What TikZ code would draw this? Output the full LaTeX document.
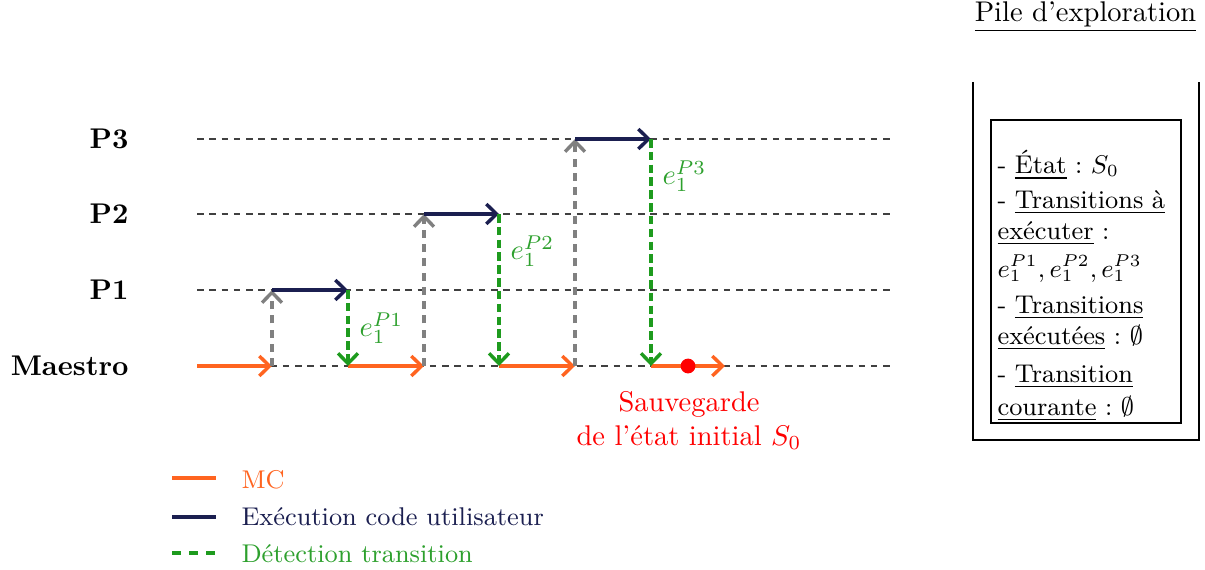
\documentclass[tikz,border=0pt]{standalone}
\usepackage{amssymb}
\usetikzlibrary{arrows.meta}
\frenchspacing
\definecolor{mcorange}{HTML}{FF6420}
\definecolor{usernavy}{HTML}{1B1F50}
\definecolor{detgreen}{HTML}{1E9B1E}
\definecolor{labgreen}{HTML}{2DA02D}
\tikzset{
  tip/.style={-{Straight Barb[length=3.6pt,width=7pt]}},
  rowline/.style={line width=0.45pt, dash pattern=on 2.3pt off 2pt, black!75},
  mcarrow/.style={tip, line width=1.2pt, mcorange},
  userarrow/.style={tip, line width=1.2pt, usernavy},
  detarrow/.style={tip, line width=1.2pt, detgreen, dash pattern=on 3pt off 1.5pt},
  gotoarrow/.style={tip, line width=1.2pt, gray, dash pattern=on 2.8pt off 2.2pt},
  rowlabel/.style={anchor=east, font=\bfseries, inner sep=0pt},
  translabel/.style={anchor=west, text=labgreen, inner sep=0pt},
  legtext/.style={anchor=west, font=\small, inner sep=0pt},
}
\begin{document}
\begin{tikzpicture}[x={(0.351pt,0)}, y={(0,-0.351pt)}]
\useasboundingbox (0,0) rectangle (1205,570);
% rows
\foreach \n/\yy in {P3/139, P2/214, P1/290, M/366}{
  \coordinate (\n-s) at (197,\yy);
  \coordinate (\n-e) at (893,\yy);
}
\node[rowlabel] (lP3) at (129,139) {P3};
\node[rowlabel] (lP2) at (129,214) {P2};
\node[rowlabel] (lP1) at (129,290) {P1};
\node[rowlabel] (lM) at (129,366) {Maestro};
\draw[rowline] (P3-s) -- (P3-e);
\draw[rowline] (P2-s) -- (P2-e);
\draw[rowline] (P1-s) -- (P1-e);
\draw[rowline] (M-s) -- (M-e);
% key points
\coordinate (m1) at (272,366);
\coordinate (m2) at (348,366);
\coordinate (m3) at (424,366);
\coordinate (m4) at (499,366);
\coordinate (m5) at (575,366);
\coordinate (m6) at (651,366);
\coordinate (m7) at (725,366);
\coordinate (p1a) at (272,290);
\coordinate (p1b) at (348,290);
\coordinate (p2a) at (424,214);
\coordinate (p2b) at (499,214);
\coordinate (p3a) at (575,139);
\coordinate (p3b) at (651,139);
% MC arrows
\draw[mcarrow] (M-s) -- (m1);
\draw[mcarrow] (m2) -- (m3);
\draw[mcarrow] (m4) -- (m5);
\draw[mcarrow] (m6) -- (m7);
% goto user
\draw[gotoarrow] (m1) -- (p1a);
\draw[gotoarrow] (m3) -- (p2a);
\draw[gotoarrow] (m5) -- (p3a);
% user code
\draw[userarrow] (p1a) -- (p1b);
\draw[userarrow] (p2a) -- (p2b);
\draw[userarrow] (p3a) -- (p3b);
% detection
\draw[detarrow] (p1b) -- (m2);
\draw[detarrow] (p2b) -- (m4);
\draw[detarrow] (p3b) -- (m6);
\node[translabel] (t1) at (359,328) {$e_1^{P1}$};
\node[translabel] (t2) at (510,251) {$e_1^{P2}$};
\node[translabel] (t3) at (662,176) {$e_1^{P3}$};
% save
\fill[red] (688,366) circle (2.6pt) coordinate (save);
\node[text=red, align=center, anchor=north] (savetxt) at (689,381) {Sauvegarde\\de l'état initial $S_0$};
% legend
\coordinate (lg1a) at (172,478); \coordinate (lg1b) at (216,478);
\coordinate (lg2a) at (172,517); \coordinate (lg2b) at (216,517);
\coordinate (lg3a) at (172,553); \coordinate (lg3b) at (216,553);
\draw[line width=1.2pt, mcorange] (lg1a) -- (lg1b);
\draw[line width=1.2pt, usernavy] (lg2a) -- (lg2b);
\draw[line width=1.2pt, detgreen, dash pattern=on 3pt off 3pt] (lg3a) -- (lg3b);
\node[legtext, text=mcorange] (lgt1) at (241,480) {MC};
\node[legtext, text=usernavy] (lgt2) at (241,517) {Exécution code utilisateur};
\node[legtext, text=labgreen] (lgt3) at (241,554) {Détection transition};
% stack
\node[anchor=south, inner sep=0pt] (piletitle) at (1085.5,33) {\underline{Pile d'exploration}};
\draw[line width=0.5pt] (973,82) coordinate (sA) -- (973,440) -- (1199,440) -- (1199,82) coordinate (sB);
\draw[line width=0.5pt] (991,120) rectangle (1181,423);
\node[anchor=north west, text width=62pt, align=left, inner sep=0pt, font=\small] (stack) at (997,150) {%
- \underline{État} : $S_0$\\[1pt]
- \underline{Transitions à}\\
\underline{exécuter} :\\[2.2pt]
$e_1^{P1}, e_1^{P2}, e_1^{P3}$\\[1.8pt]
- \underline{Transitions}\\
\underline{exécutées} : $\emptyset$\\[2.2pt]
- \underline{Transition}\\[0.6pt]
\underline{courante} : $\emptyset$};
\end{tikzpicture}
\end{document}
